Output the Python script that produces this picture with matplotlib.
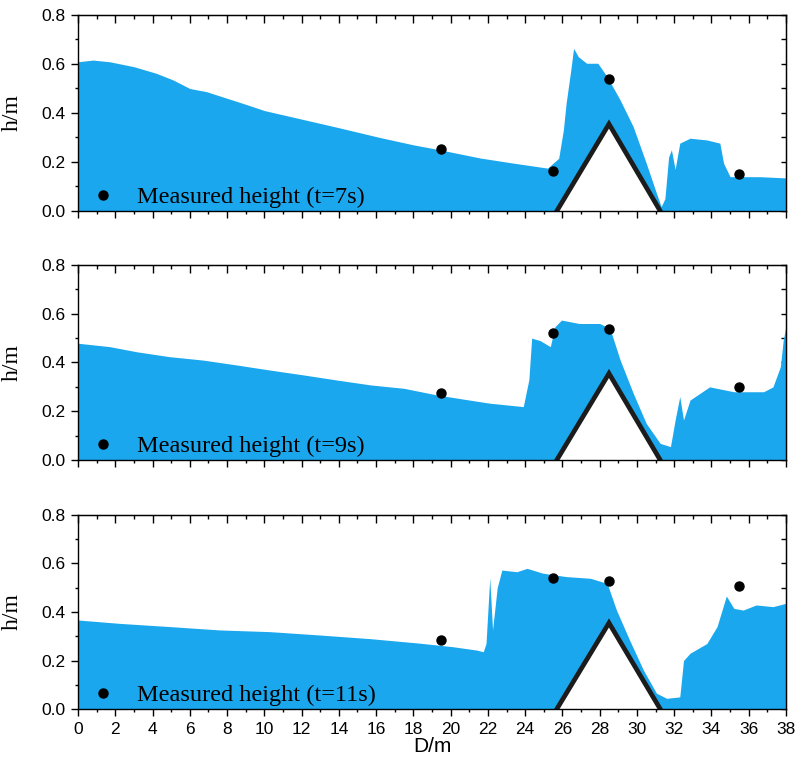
import matplotlib
matplotlib.use('Agg')
import matplotlib.pyplot as plt
from matplotlib.ticker import MultipleLocator

plt.rcParams['font.family'] = 'Liberation Sans'
plt.rcParams['font.size'] = 12.5

water_color = '#1aa7ee'

# obstacle (triangle) vertices
tri_D = [25.7, 28.5, 31.25]
tri_h = [0.0, 0.355, 0.0]

# measured heights
meas_D = [19.5, 25.5, 28.5, 35.5]
meas_h_7 = [0.253, 0.165, 0.54, 0.152]
meas_h_9 = [0.274, 0.522, 0.536, 0.298]
meas_h_11 = [0.285, 0.541, 0.529, 0.507]

# simulated free surface, t=7s
surf_D_7 = [0, 0.8, 1.7, 3.0, 4.2, 5.1, 6.0, 6.9, 8.0, 9.1, 10.0, 12.0, 14.0, 16.2, 18.0,
            19.4, 21.6, 23.4, 25.2, 25.5, 25.8, 26.05, 26.2, 26.45, 26.6, 26.85, 27.3, 27.9,
            28.4, 29.1, 29.8, 30.5, 31.05, 31.3, 31.5, 31.7, 31.85, 32.05, 32.3, 32.85,
            33.75, 34.45, 34.65, 35.0, 36.6, 38.0]
surf_h_7 = [0.609, 0.616, 0.609, 0.589, 0.562, 0.535, 0.50, 0.487, 0.46, 0.433, 0.41, 0.375,
            0.34, 0.30, 0.27, 0.25, 0.216, 0.195, 0.175, 0.195, 0.215, 0.33, 0.44, 0.575, 0.664,
            0.63, 0.603, 0.603, 0.548, 0.453, 0.344, 0.195, 0.072, 0.018, 0.05, 0.22, 0.25,
            0.17, 0.277, 0.297, 0.29, 0.277, 0.195, 0.14, 0.14, 0.135]

# simulated free surface, t=9s
surf_D_9 = [0, 1.7, 3.15, 4.9, 6.7, 8.5, 10.3, 12.1, 13.9, 15.7, 17.5, 19.25, 21.0, 22.1,
            23.9, 24.2, 24.35, 24.8, 25.35, 25.6, 25.95, 26.9, 28.0, 28.55, 29.1, 29.8, 30.5,
            31.25, 31.8, 32.05, 32.3, 32.5, 32.85, 33.9, 35.2, 36.8, 37.3, 37.7, 37.85, 38.0]
surf_h_9 = [0.479, 0.465, 0.444, 0.424, 0.41, 0.39, 0.369, 0.349, 0.328, 0.308, 0.294, 0.267,
            0.246, 0.233, 0.219, 0.33, 0.50, 0.49, 0.465, 0.547, 0.574, 0.56, 0.56, 0.54, 0.41,
            0.274, 0.15, 0.068, 0.055, 0.164, 0.26, 0.164, 0.246, 0.30, 0.28, 0.28, 0.30,
            0.383, 0.49, 0.55]

# simulated free surface, t=11s
surf_D_11 = [0, 2.25, 4.9, 7.6, 10.3, 13.0, 15.7, 18.4, 20.1, 21.4, 21.75, 21.9, 22.1, 22.25,
             22.5, 22.75, 23.55, 24.1, 24.95, 26.2, 27.5, 28.4, 28.9, 29.6, 30.35, 31.05, 31.6,
             32.3, 32.5, 32.85, 33.75, 34.3, 34.8, 35.2, 35.7, 36.4, 37.3, 38.0]
surf_h_11 = [0.367, 0.353, 0.34, 0.326, 0.319, 0.305, 0.29, 0.271, 0.257, 0.243, 0.236, 0.27,
             0.54, 0.326, 0.50, 0.573, 0.566, 0.58, 0.56, 0.546, 0.539, 0.518, 0.408, 0.285,
             0.16, 0.065, 0.044, 0.05, 0.2, 0.23, 0.27, 0.34, 0.466, 0.415, 0.408, 0.429,
             0.422, 0.436]

panels = [
    (surf_D_7, surf_h_7, meas_h_7, 'Measured height (t=7s)'),
    (surf_D_9, surf_h_9, meas_h_9, 'Measured height (t=9s)'),
    (surf_D_11, surf_h_11, meas_h_11, 'Measured height (t=11s)'),
]

fig = plt.figure(figsize=(7.96, 7.65), dpi=100)
# axes rectangles (left, bottom, width, height) in figure fraction
rects = [
    [0.098, 0.7242, 0.8894, 0.2562],
    [0.098, 0.3987, 0.8894, 0.2549],
    [0.098, 0.0732, 0.8894, 0.2536],
]

for i, (sD, sh, mh, lab) in enumerate(panels):
    ax = fig.add_axes(rects[i])
    # water
    ax.fill_between(sD, 0, sh, color=water_color, linewidth=0, zorder=1)
    # obstacle
    ax.fill(tri_D, tri_h, color='white', linewidth=0, zorder=2)
    ax.plot(tri_D, tri_h, color='#1c1c1c', linewidth=3.4, solid_joinstyle='miter', zorder=3)
    # measured points
    ax.plot(meas_D, mh, 'o', color='black', markersize=6.5, linestyle='none', label=lab, zorder=4)

    ax.set_xlim(0, 38)
    ax.set_ylim(0, 0.8)
    ax.xaxis.set_major_locator(MultipleLocator(2))
    ax.xaxis.set_minor_locator(MultipleLocator(1))
    ax.yaxis.set_major_locator(MultipleLocator(0.2))
    ax.yaxis.set_minor_locator(MultipleLocator(0.1))
    ax.yaxis.set_major_formatter(plt.FormatStrFormatter('%.1f'))

    # Origin-like ticks: outward on bottom/left, inward on top/right
    ax.tick_params(which='both', bottom=True, left=True, top=False, right=False,
                   direction='out', width=1, color='black')
    ax.tick_params(which='major', length=5, pad=4, labelsize=12.5)
    ax.tick_params(which='minor', length=2.5)
    axt = ax.secondary_xaxis('top')
    axt.xaxis.set_major_locator(MultipleLocator(2))
    axt.xaxis.set_minor_locator(MultipleLocator(1))
    axt.tick_params(which='both', direction='in', labeltop=False, width=1)
    axt.tick_params(which='major', length=5.5)
    axt.tick_params(which='minor', length=3)
    axr = ax.secondary_yaxis('right')
    axr.yaxis.set_major_locator(MultipleLocator(0.1))
    axr.tick_params(which='both', direction='in', labelright=False, width=1, length=3.5)
    axr.yaxis.set_minor_locator(MultipleLocator(0.1))

    for sp in ax.spines.values():
        sp.set_linewidth(1.0)
        sp.set_zorder(5)

    if i < 2:
        ax.tick_params(labelbottom=False)
    else:
        ax.set_xlabel('D/m', fontsize=15, labelpad=0)

    ax.set_ylabel('h/m', family='Liberation Serif', fontsize=17)
    ax.yaxis.set_label_coords(-0.078, 0.5)

    ax.legend(loc='center left', bbox_to_anchor=(0.018, 0.071), frameon=False,
              borderpad=0, borderaxespad=0, handlelength=1.0, handletextpad=0.9,
              prop={'family': 'Liberation Serif', 'size': 17.5})

fig.savefig('out.png', dpi=100)
